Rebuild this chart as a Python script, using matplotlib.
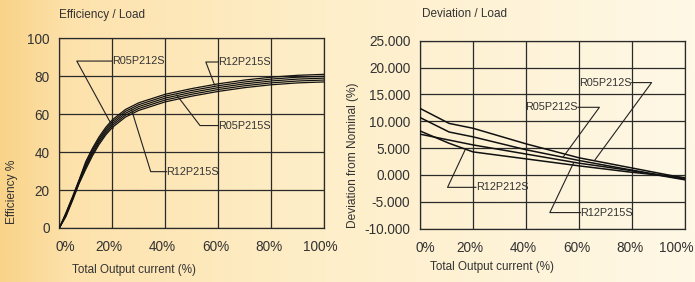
import numpy as np
import matplotlib.pyplot as plt
import matplotlib.transforms as mtransforms
from matplotlib.colors import LinearSegmentedColormap

# Efficiency / Load data (5 curves)
eff_x = [0, 2.5, 5, 7.5, 10, 12.5, 15, 17.5, 20, 25, 30, 40, 50, 60, 70, 80, 90, 100]
eff_curves = [
    [0, 8.0, 16.5, 25.5, 35, 42, 48, 53, 57, 62.5, 66, 70.5, 73.5, 76, 78, 79.5, 80.5, 81],
    [0, 7.5, 16.0, 25.0, 34, 41, 47, 52, 56, 61.5, 65, 69.5, 72.5, 75, 77, 78.5, 79.5, 80],
    [0, 7.0, 15.5, 24.5, 33, 40, 46, 51, 55, 60.5, 64, 68.5, 71.5, 74, 76, 77.5, 78.5, 79],
    [0, 6.5, 15.0, 24.0, 32, 39, 45, 50, 54, 59.5, 63, 67.5, 70.5, 73, 75, 76.5, 77.5, 78],
    [0, 6.0, 14.5, 23.5, 31, 38, 44, 49, 53, 58.5, 62, 66.5, 69.5, 72, 74, 75.5, 76.5, 77],
]
eff_yticks = [0, 20, 40, 60, 80, 100]

# Deviation / Load data (4 curves)
dev_x = [0, 11, 20, 40, 60, 80, 100]
dev_curves = [
    [12.4, 9.6, 8.7, 5.8, 3.2, 1.3, -0.6],
    [10.7, 8.0, 7.1, 4.7, 2.7, 0.9, -0.8],
    [8.2, 5.9, 4.3, 3.0, 1.7, 0.5, -0.5],
    [7.6, 6.5, 5.6, 3.9, 2.2, 0.8, -0.9],
]
dev_yticks = [-10, -5, 0, 5, 10, 15, 20, 25]

x_ticks = [0, 20, 40, 60, 80, 100]
x_ticklabels = ['0%', '20%', '40%', '60%', '80%', '100%']
# small horizontal nudges of the tick labels (pixels), as in the original
eff_label_shift = [6, -3, -3, -2, -2, -4]
dev_label_shift = [5, -3, -3, -2, -2, -9]

# labels: (text, tip x, tip y, corner x, corner y, text x, ha)
eff_labels = [
    ('R05P212S', 20.4, 52.7, 6.6, 88.0, 19.9, 'left'),
    ('R12P215S', 58.6, 75.4, 55.3, 87.5, 59.9, 'left'),
    ('R05P215S', 44.3, 70.1, 53.1, 54.0, 59.9, 'left'),
    ('R12P215S', 27.3, 62.2, 34.5, 29.7, 40.5, 'left'),
]
dev_labels = [
    ('R05P212S', 66.0, 2.8, 87.4, 17.2, 79.9, 'right'),
    ('R05P212S', 54.1, 3.4, 67.7, 12.6, 59.6, 'right'),
    ('R12P212S', 17.0, 4.65, 10.4, -2.3, 21.1, 'left'),
    ('R12P215S', 57.9, 2.2, 49.0, -7.0, 60.6, 'left'),
]

FONT = ['Liberation Sans', 'DejaVu Sans']
TXT = '#333333'
plt.rcParams['font.family'] = FONT

fig = plt.figure(figsize=(6.95, 2.82), dpi=100)

# background gradient
bg = fig.add_axes([0, 0, 1, 1], zorder=-10)
cmap = LinearSegmentedColormap.from_list('bg', [
    (0.0, (249/255, 211/255, 136/255)),
    (0.10, (253/255, 226/255, 172/255)),
    (0.45, (254/255, 238/255, 200/255)),
    (1.0, (255/255, 248/255, 230/255)),
])
grad = np.linspace(0, 1, 512).reshape(1, -1)
bg.imshow(grad, aspect='auto', cmap=cmap, extent=[0, 1, 0, 1])
bg.set_axis_off()


def style_axes(ax, yticks, ylim, fmt, shifts):
    ax.set_facecolor('none')
    ax.set_xlim(0, 100)
    ax.set_ylim(*ylim)
    ax.set_xticks(x_ticks)
    ax.set_xticklabels(x_ticklabels)
    ax.set_yticks(yticks)
    ax.set_yticklabels([fmt(v) for v in yticks])
    ax.tick_params(length=0, labelsize=9.8, labelcolor=TXT)
    ax.tick_params(axis='x', pad=9)
    ax.tick_params(axis='y', pad=7)
    ax.grid(True, color='#2a2a2a', lw=0.9)
    for s in ax.spines.values():
        s.set_color('#2a2a2a')
        s.set_linewidth(0.9)
    for lab, dx in zip(ax.get_xticklabels(), shifts):
        off = mtransforms.ScaledTranslation(dx / 100, 0, fig.dpi_scale_trans)
        lab.set_transform(lab.get_transform() + off)


def draw_labels(ax, labels):
    for text, tx, ty, cx, cy, lx, ha in labels:
        ax.plot([tx, cx, lx], [ty, cy, cy], color='#222222', lw=0.8, zorder=4)
        ax.text(lx, cy, text, ha=ha, va='center', fontsize=7.8, color=TXT,
                zorder=5)


# left chart
ax1 = fig.add_axes([0.0853, 0.1915, 0.3813, 0.6727])
style_axes(ax1, eff_yticks, (0, 100), lambda v: f'{v:d}', eff_label_shift)
for ys in eff_curves:
    ax1.plot(eff_x, ys, color='#111111', lw=0.9, zorder=3)
draw_labels(ax1, eff_labels)

# right chart
ax2 = fig.add_axes([0.6043, 0.189, 0.3813, 0.6667])
style_axes(ax2, dev_yticks, (-10, 25), lambda v: f'{v:.3f}', dev_label_shift)
for ys in dev_curves:
    ax2.plot(dev_x, ys, color='#111111', lw=1.1, zorder=3)
draw_labels(ax2, dev_labels)

# titles and axis labels
fig.text(0.0853, 0.948, 'Efficiency / Load', ha='left', va='center',
         fontsize=8.5, color=TXT)
fig.text(0.6068, 0.950, 'Deviation / Load', ha='left', va='center',
         fontsize=8.5, color=TXT)
fig.text(134 / 695, 0.0426, 'Total Output current (%)', ha='center',
         va='center', fontsize=8.4, color=TXT)
fig.text(492 / 695, 0.053, 'Total Output current (%)', ha='center',
         va='center', fontsize=8.4, color=TXT)
fig.text(12 / 695, 0.319, 'Efficiency %', ha='center', va='center',
         rotation=90, fontsize=8.6, color=TXT)
fig.text(353 / 695, 0.45, 'Deviation from Nominal (%)', ha='center',
         va='center', rotation=90, fontsize=8.6, color=TXT)

fig.savefig('out.png', dpi=100)
